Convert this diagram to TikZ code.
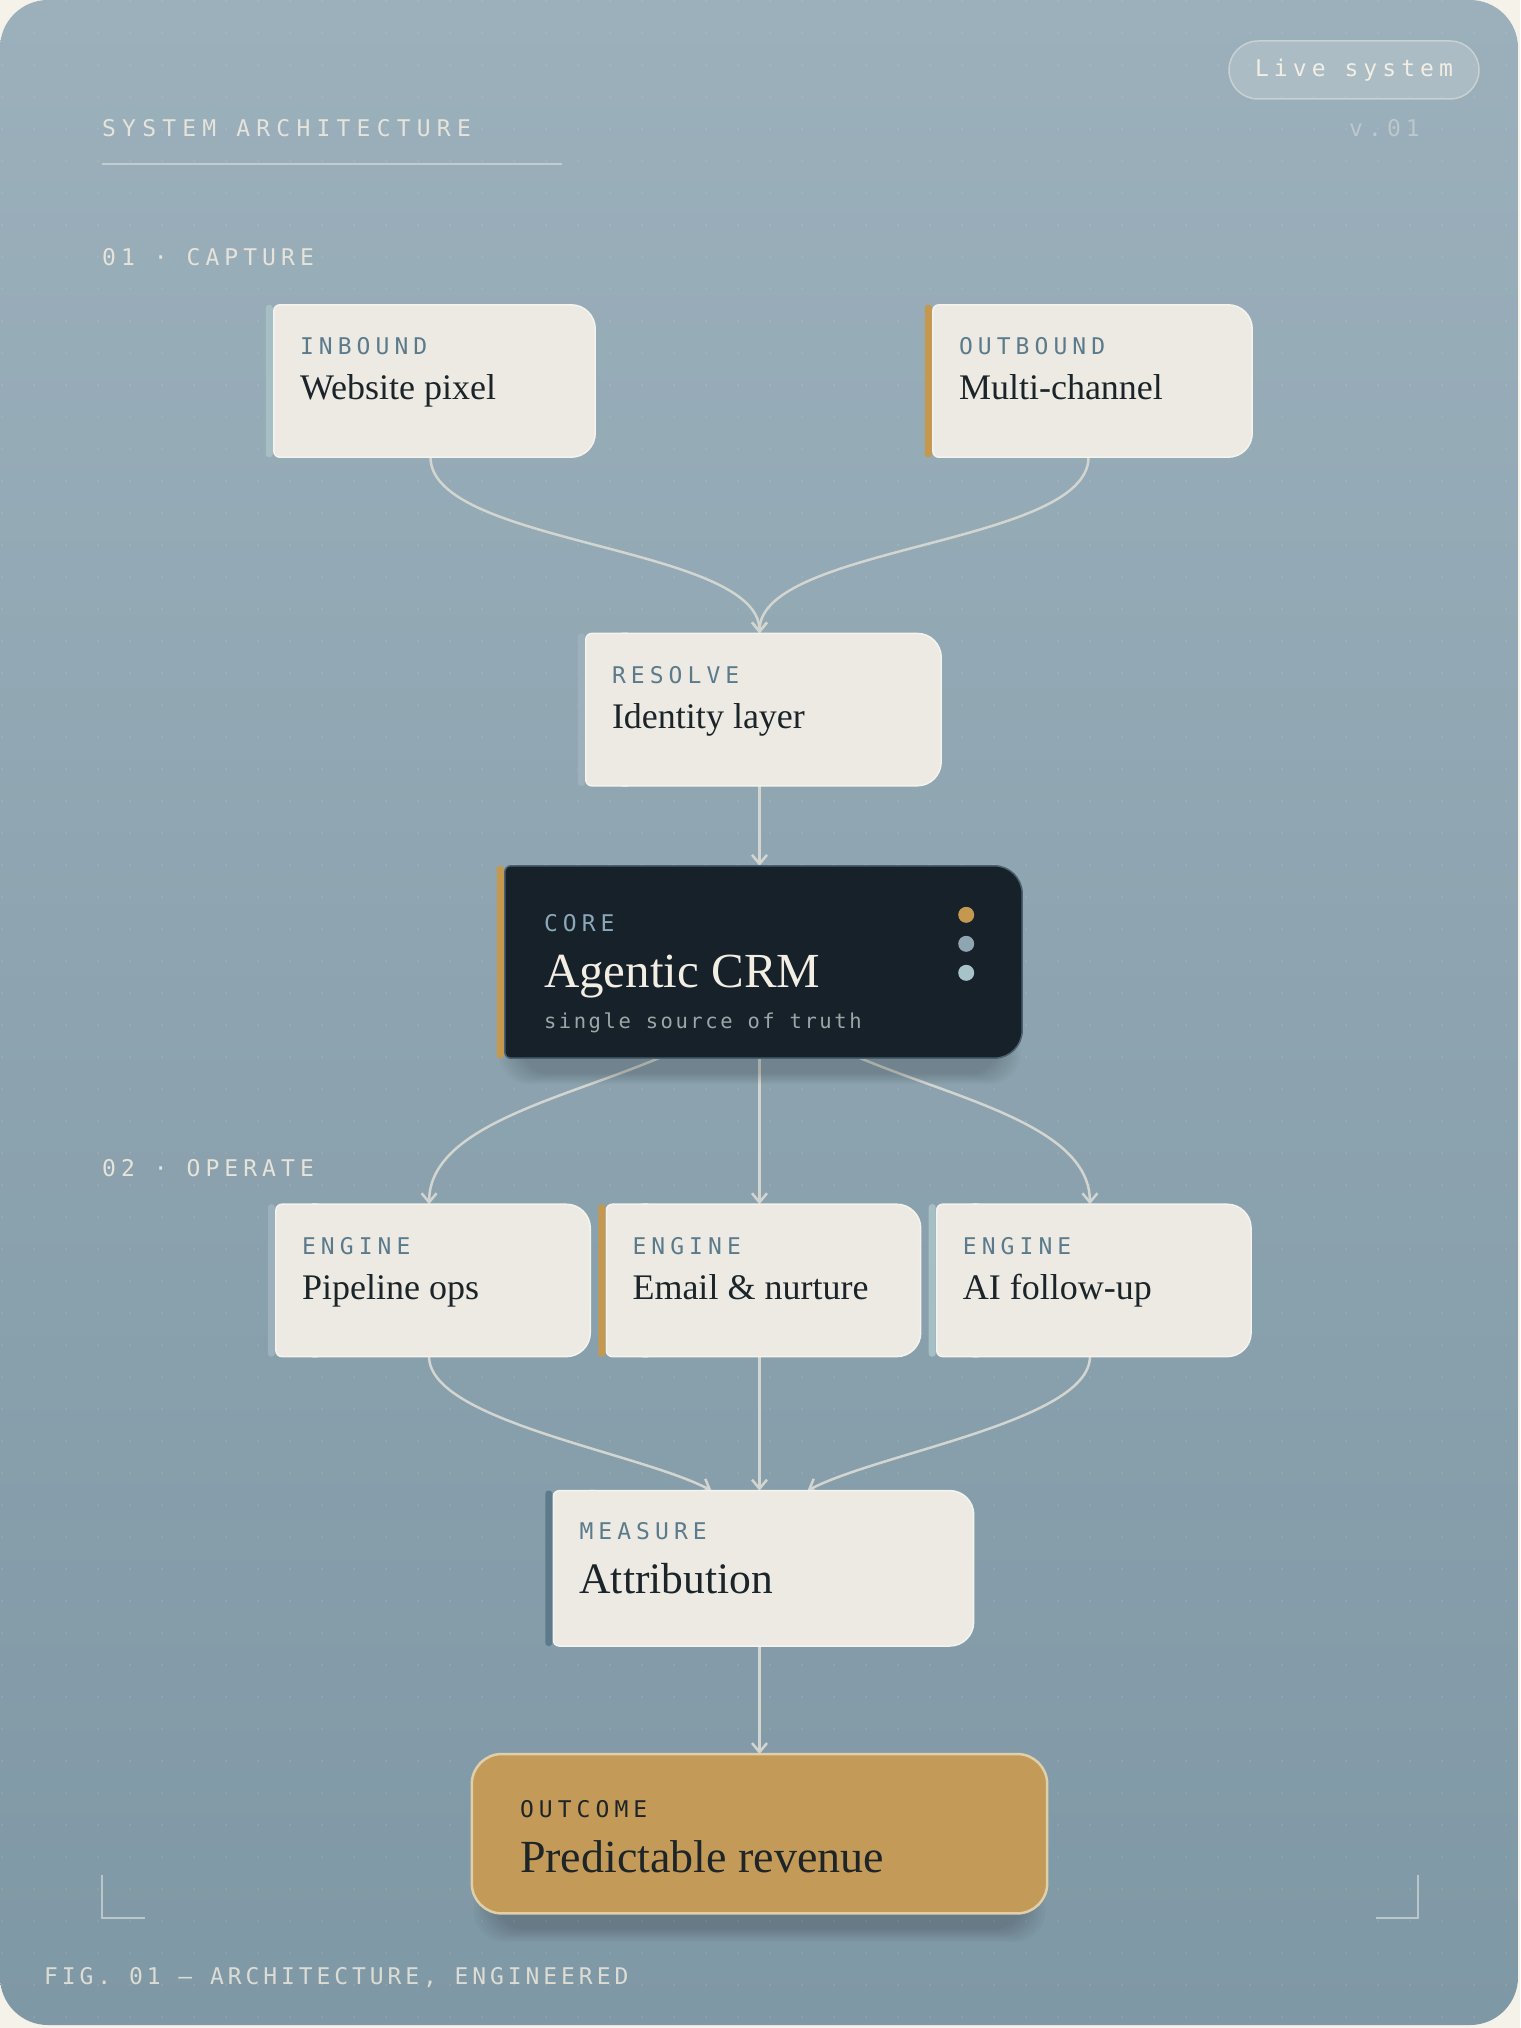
\documentclass[tikz,border=0pt]{standalone}
\usepackage{fontspec}
\setmainfont{Liberation Serif}
\newfontfamily\tagfont[LetterSpace=22]{DejaVu Sans Mono}
\newfontfamily\headfont[LetterSpace=27]{DejaVu Sans Mono}
\newfontfamily\figfont[LetterSpace=17]{DejaVu Sans Mono}
\newfontfamily\truthfont[LetterSpace=12.5]{DejaVu Sans Mono}
\usetikzlibrary{arrows.meta,positioning,calc}
\definecolor{cream}{HTML}{F5F2EA}
\definecolor{bgtop}{HTML}{9BB0BB}
\definecolor{bgbot}{HTML}{7F98A5}
\definecolor{cardfill}{HTML}{EDEAE3}
\definecolor{cardrim}{HTML}{F5F3EE}
\definecolor{ink}{HTML}{1B2429}
\definecolor{tagblue}{HTML}{5B7B8C}
\definecolor{gold}{HTML}{C4994F}
\definecolor{barteal}{HTML}{A5BFC4}
\definecolor{barpale}{HTML}{9CB1BB}
\definecolor{barslate}{HTML}{5C7A8A}
\definecolor{corefill}{HTML}{16212A}
\definecolor{corerim}{HTML}{48606F}
\definecolor{coretag}{HTML}{8AA8B8}
\definecolor{coretext}{HTML}{F3EEE4}
\definecolor{coresub}{HTML}{9DA6A7}
\definecolor{dotgray}{HTML}{8FA5B1}
\definecolor{dotpale}{HTML}{A8C2C9}
\definecolor{outfill}{HTML}{C39A57}
\definecolor{outrim}{HTML}{E0CFA8}
\definecolor{outink}{HTML}{1E2528}
\definecolor{linkc}{HTML}{D2D5D0}
\definecolor{capc}{HTML}{E6E3DA}
\definecolor{verc}{HTML}{BCC8CB}
\definecolor{rulec}{HTML}{C3CDD0}
\definecolor{brk}{HTML}{B9C6CB}
\definecolor{pillrim}{HTML}{C8D1D0}

\begin{document}
\begin{tikzpicture}[x=1pt, y=-1pt,
  card/.style={minimum height=152pt, inner sep=0pt},
  tag/.style={font=\tagfont\fontsize{23pt}{23pt}\selectfont, text=tagblue, inner sep=0pt, anchor=base west},
  title/.style={font=\fontsize{36pt}{36pt}\selectfont, text=ink, inner sep=0pt, anchor=base west},
  caption/.style={font=\tagfont\fontsize{23pt}{23pt}\selectfont, text=capc, inner sep=0pt, anchor=base west},
  pill/.style={minimum width=250pt, minimum height=58pt, rounded corners=29pt, fill=white, fill opacity=0.17,
               text opacity=1, draw=pillrim, line width=1.5pt, font=\tagfont\fontsize{23pt}{23pt}\selectfont, text=coretext},
  link/.style={-{Straight Barb[length=9pt,width=15pt]}, line width=2.5pt, draw=linkc},
  bracket/.style={draw=brk, line width=2pt}
]
  \useasboundingbox (0,0) rectangle (1520,2028);
  % card background with dot grid
  \fill[cream] (0,0) rectangle (1520,2028);
  \begin{scope}
    \clip[rounded corners=48pt] (0,0) rectangle (1518,2025);
    \shade[top color=bgtop, bottom color=bgbot] (0,0) rectangle (1518,2025);
    \foreach \i in {0,...,47}
      \foreach \j in {0,...,63}
        \fill[white, opacity=0.09] (2+32*\i,1+32*\j) circle (1.4pt);
  \end{scope}

  % header
  \node[caption, font=\headfont\fontsize{23pt}{23pt}\selectfont] (head) at (102,137) {SYSTEM ARCHITECTURE};
  \draw[rulec, line width=1.5pt] (102,164) -- (562,164);
  \node[caption, text=verc] (ver) at (1349,137) {v.01};
  \node[pill] (live) at (1354,70) {Live system};
  \node[caption] (sec1) at (102,265) {01 · CAPTURE};
  \node[caption] (sec2) at (102,1176) {02 · OPERATE};

  % nodes
  \node[card, minimum width=525pt, minimum height=192pt] (core) at (759.5,962) {};
  \node[card, minimum width=363pt, above=80pt of core] (res) {};
  \node[card, minimum width=329pt] (inb) at (430.5,381) {};
  \node[card, minimum width=327pt] (outb) at (1088.5,381) {};
  \node[card, minimum width=322pt, below=146pt of core] (mail) {};
  \node[card, minimum width=322pt, left=8pt of mail] (pipe) {};
  \node[card, minimum width=322pt, right=8pt of mail] (aifu) {};
  \node[card, minimum width=428pt, minimum height=155pt, below=134pt of mail] (meas) {};
  \node[card, minimum width=575pt, minimum height=159pt, below=108pt of meas] (outc) {};
  \coordinate (meas-in-l) at ($(meas.north)+(-48pt,0)$);
  \coordinate (meas-in-r) at ($(meas.north)+(48pt,0)$);

  % connectors
  \foreach \s in {inb,outb}{\draw[link] (\s.south) .. controls +(0,88) and +(0,-88) .. (res.north);}
  \foreach \e in {pipe,aifu}{\draw[link] (core.center) .. controls +(0,121) and +(0,-121) .. (\e.north);}
  \foreach \x/\y in {res/core,core/mail,mail/meas,meas/outc}{\draw[link] (\x.south) -- (\y.north);}
  \draw[link] (pipe.south) .. controls +(0,64) and +(-72,-38) .. (meas-in-l);
  \draw[link] (aifu.south) .. controls +(0,64) and +(72,-38) .. (meas-in-r);

  % soft shadows
  \foreach \k in {1,...,8}{
    \fill[black, opacity=0.025, rounded corners=30pt]
      ($(core.south west)+(26pt-3pt*\k,-14pt-1.5pt*\k)$) rectangle ($(core.north east)+(-26pt+3pt*\k,-40pt)$);
    \fill[black, opacity=0.022, rounded corners=30pt]
      ($(outc.south west)+(26pt-3pt*\k,-14pt-1.8pt*\k)$) rectangle ($(outc.north east)+(-26pt+3pt*\k,-40pt)$);
  }

  % card bodies with accent bars
  \foreach \n/\c/\r/\f/\d in {inb/barteal/24pt/cardfill/cardrim, outb/gold/24pt/cardfill/cardrim,
      res/barpale/24pt/cardfill/cardrim, pipe/barpale/24pt/cardfill/cardrim, mail/gold/24pt/cardfill/cardrim,
      aifu/barteal/24pt/cardfill/cardrim, meas/barslate/24pt/cardfill/cardrim, core/gold/28pt/corefill/corerim}{
    \begin{scope}
      \clip ($(\n.north west)+(44pt,10pt)$) rectangle ($(\n.south east)+(10pt,-10pt)$);
      \filldraw[fill=\f, draw=\d, line width=1.5pt, rounded corners=\r] ($(\n.north west)+(8pt,0)$) rectangle (\n.south east);
    \end{scope}
    \begin{scope}
      \clip ($(\n.north west)+(-10pt,10pt)$) rectangle ($(\n.south west)+(50pt,-10pt)$);
      \filldraw[fill=\f, draw=\d, line width=1.5pt, rounded corners=6pt] ($(\n.north west)+(8pt,0)$) rectangle (\n.south east);
    \end{scope}
    \fill[\c, rounded corners=3pt] (\n.north west) rectangle ($(\n.south west)+(7pt,0)$);
  }
  \filldraw[fill=outfill, draw=outrim, line width=2.5pt, rounded corners=30pt] (outc.north west) rectangle (outc.south east);

  % card texts
  \foreach \n/\tg/\tt in {inb/INBOUND/Website pixel, outb/OUTBOUND/Multi-channel, res/RESOLVE/Identity layer,
      pipe/ENGINE/Pipeline ops, mail/ENGINE/Email \& nurture, aifu/ENGINE/AI follow-up}{
    \node[tag] (\n-tag) at ($(\n.north west)+(34pt,-50pt)$) {\tg};
    \node[title] (\n-title) at ($(\n.north west)+(34pt,-95pt)$) {\tt};
  }
  \node[tag] (meas-tag) at ($(meas.north west)+(34pt,-49pt)$) {MEASURE};
  \node[title, font=\fontsize{43.5pt}{43.5pt}\selectfont] (meas-title) at ($(meas.north west)+(34pt,-103pt)$) {Attribution};
  \node[tag, text=coretag] (core-tag) at ($(core.north west)+(47pt,-66pt)$) {CORE};
  \node[title, font=\fontsize{49pt}{49pt}\selectfont, text=coretext] (core-title) at ($(core.north west)+(47pt,-122pt)$) {Agentic CRM};
  \node[tag, font=\truthfont\fontsize{20.5pt}{20.5pt}\selectfont, text=coresub] (core-sub) at ($(core.north west)+(47pt,-163pt)$) {single source of truth};
  \foreach \c [count=\i] in {gold,dotgray,dotpale}{\fill[\c] ($(core.north east)+(-56pt,-49pt-29pt*\i+29pt)$) circle (8pt);}
  \node[tag, text=outink] (outc-tag) at ($(outc.north west)+(48pt,-63pt)$) {OUTCOME};
  \node[title, font=\fontsize{46pt}{46pt}\selectfont, text=outink] (outc-title) at ($(outc.north west)+(48pt,-118pt)$) {Predictable revenue};

  % footer
  \draw[bracket] (102,1875) -- (102,1918) -- (145,1918);
  \draw[bracket] (1418,1875) -- (1418,1918) -- (1376,1918);
  \node[caption, font=\figfont\fontsize{23pt}{23pt}\selectfont, text=capc!90!bgbot] (fig) at (44,1984) {FIG. 01 — ARCHITECTURE, ENGINEERED};
\end{tikzpicture}
\end{document}
